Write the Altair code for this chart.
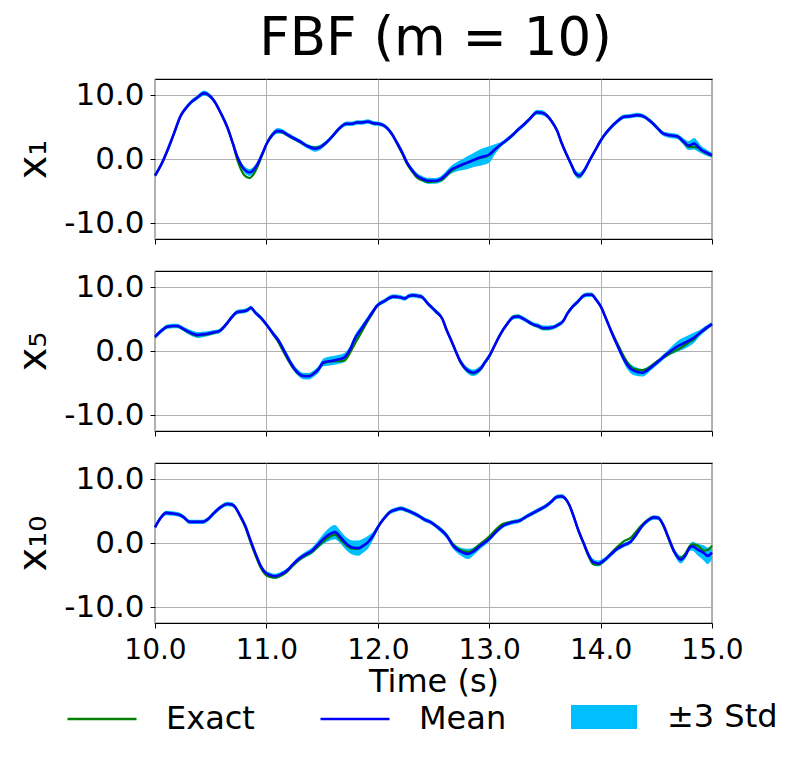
import altair as alt
import pandas as pd

FONT = "DejaVu Sans"

# ---------------- data ----------------
x_ticks = [10, 11, 12, 13, 14, 15]
y_ticks = [-10, 0, 10]
panel_names = ["x\u2081", "x\u2085", "x\u2081\u2080"]
series_names = ["Exact", "Mean"]
band_name = "\u00b13 Std"

t1 = [10.00, 10.06, 10.11, 10.17, 10.23, 10.28, 10.32, 10.38, 10.44, 10.49,
      10.53, 10.59, 10.65, 10.70, 10.74, 10.80, 10.85, 10.88, 10.92, 10.96,
      11.00, 11.05, 11.10, 11.14, 11.18, 11.24, 11.30, 11.37, 11.44, 11.49,
      11.54, 11.60, 11.65, 11.72, 11.77, 11.81, 11.86, 11.91, 11.96, 12.02,
      12.08, 12.13, 12.17, 12.22, 12.26, 12.31, 12.35, 12.40, 12.45, 12.52,
      12.57, 12.61, 12.65, 12.70, 12.74, 12.80, 12.86, 12.93, 13.00, 13.05,
      13.10, 13.16, 13.22, 13.26, 13.31, 13.36, 13.43, 13.48, 13.52, 13.56,
      13.61, 13.65, 13.70, 13.74, 13.77, 13.81, 13.85, 13.90, 13.95, 14.00,
      14.05, 14.09, 14.15, 14.21, 14.27, 14.33, 14.38, 14.44, 14.49, 14.56,
      14.62, 14.69, 14.74, 14.79, 14.84, 14.87, 14.90, 14.95, 15.00]
mean1 = [-2.6, -0.7, 1.3, 4.0, 6.75, 8.0, 8.8, 9.6, 10.3, 9.9,
         9.1, 7.2, 4.9, 2.4, 0.3, -1.6, -2.1, -1.8, -0.8, 0.7,
         2.3, 3.7, 4.4, 4.3, 3.9, 3.3, 2.75, 2.0, 1.6, 1.9,
         2.6, 3.7, 4.7, 5.5, 5.5, 5.7, 5.7, 5.85, 5.6, 5.45,
         4.9, 3.8, 2.6, 1.0, -0.5, -1.8, -2.6, -3.1, -3.4, -3.4,
         -3.1, -2.5, -1.8, -1.3, -1.0, -0.6, -0.15, 0.3, 0.7, 1.5,
         2.2, 3.0, 3.9, 4.6, 5.35, 6.2, 7.3, 7.2, 6.75, 5.9,
         4.4, 2.5, 0.5, -1.0, -2.1, -2.6, -1.9, -0.26, 1.3, 2.86,
         4.1, 4.9, 5.9, 6.6, 6.7, 6.86, 6.7, 6.0, 5.2, 4.0,
         3.7, 3.5, 2.8, 2.1, 2.4, 2.0, 1.5, 1.0, 0.6]
exact1 = [-2.6, -0.8, 1.2, 3.9, 6.7, 8.0, 8.8, 9.6, 10.3, 9.9,
          9.1, 7.2, 5.0, 2.3, -0.2, -2.5, -3.0, -2.5, -1.2, 0.5,
          2.3, 3.8, 4.3, 4.2, 3.8, 3.2, 2.7, 2.0, 1.8, 2.0,
          2.6, 3.7, 4.7, 5.5, 5.5, 5.7, 5.7, 5.85, 5.6, 5.45,
          4.9, 3.9, 2.5, 0.8, -0.7, -2.0, -2.9, -3.3, -3.6, -3.5,
          -3.3, -2.7, -2.0, -1.4, -1.1, -0.6, -0.2, 0.2, 0.6, 1.4,
          2.2, 3.0, 3.9, 4.6, 5.35, 6.2, 7.3, 7.2, 6.75, 5.9,
          4.4, 2.5, 0.5, -1.0, -2.2, -2.7, -1.9, -0.3, 1.3, 2.86,
          4.1, 4.9, 5.9, 6.6, 6.7, 6.86, 6.7, 6.0, 5.2, 4.0,
          3.7, 3.5, 2.7, 1.9, 1.9, 1.8, 1.4, 0.9, 0.5]
std3_1 = [0.35, 0.35, 0.35, 0.35, 0.35, 0.35, 0.35, 0.35, 0.4, 0.35,
          0.35, 0.35, 0.35, 0.4, 0.45, 0.5, 0.55, 0.5, 0.45, 0.4,
          0.35, 0.4, 0.45, 0.4, 0.35, 0.35, 0.35, 0.35, 0.45, 0.4,
          0.35, 0.35, 0.35, 0.35, 0.35, 0.35, 0.35, 0.35, 0.35, 0.35,
          0.35, 0.35, 0.4, 0.4, 0.4, 0.45, 0.45, 0.45, 0.45, 0.45,
          0.5, 0.55, 0.6, 0.7, 0.8, 1.0, 1.1, 1.3, 1.3, 0.8,
          0.4, 0.35, 0.35, 0.35, 0.35, 0.35, 0.4, 0.4, 0.35, 0.35,
          0.35, 0.35, 0.4, 0.45, 0.5, 0.5, 0.45, 0.35, 0.35, 0.35,
          0.35, 0.35, 0.35, 0.35, 0.35, 0.35, 0.35, 0.35, 0.35, 0.35,
          0.4, 0.4, 0.5, 0.7, 0.9, 0.8, 0.6, 0.5, 0.4]

t2 = [10.00, 10.06, 10.11, 10.16, 10.20, 10.25, 10.29, 10.34, 10.38, 10.43,
      10.47, 10.52, 10.575, 10.61, 10.65, 10.69, 10.74, 10.79, 10.83, 10.86,
      10.90, 10.95, 11.01, 11.065, 11.11, 11.155, 11.20, 11.245, 11.29, 11.33,
      11.38, 11.42, 11.47, 11.51, 11.56, 11.60, 11.65, 11.70, 11.75, 11.79,
      11.85, 11.90, 11.95, 11.99, 12.06, 12.14, 12.20, 12.24, 12.28, 12.315,
      12.36, 12.39, 12.45, 12.52, 12.58, 12.615, 12.66, 12.705, 12.74, 12.78,
      12.82, 12.855, 12.89, 12.93, 12.96, 13.00, 13.05, 13.10, 13.16, 13.22,
      13.26, 13.29, 13.34, 13.395, 13.44, 13.485, 13.53, 13.575, 13.62, 13.665,
      13.70, 13.74, 13.79, 13.845, 13.88, 13.92, 13.96, 14.00, 14.05, 14.10,
      14.15, 14.21, 14.25, 14.30, 14.375, 14.45, 14.50, 14.54, 14.585, 14.63,
      14.68, 14.72, 14.78, 14.84, 14.89, 14.94, 15.00]
mean2 = [2.2, 3.2, 3.8, 3.9, 3.9, 3.5, 3.1, 2.7, 2.5, 2.6,
         2.7, 2.9, 3.1, 3.6, 4.4, 5.3, 6.1, 6.2, 6.4, 6.75,
         6.0, 5.2, 3.9, 2.6, 1.6, 0.16, -1.3, -2.6, -3.5, -3.9,
         -3.95, -3.6, -2.8, -1.8, -1.6, -1.5, -1.3, -1.0, 0.2, 1.8,
         3.4, 4.7, 6.0, 7.0, 7.8, 8.5, 8.4, 8.2, 8.6, 8.7,
         8.6, 8.5, 7.4, 6.2, 5.0, 3.4, 1.6, -0.26, -1.6, -2.6,
         -3.2, -3.4, -3.2, -2.6, -1.8, -0.8, 0.9, 2.6, 4.2, 5.3,
         5.4, 5.2, 4.7, 4.16, 3.9, 3.6, 3.6, 3.7, 4.1, 4.7,
         5.8, 6.75, 7.6, 8.6, 8.8, 8.8, 8.0, 7.0, 5.0, 2.86,
         0.9, -1.3, -2.4, -3.1, -3.4, -2.6, -1.9, -1.3, -0.6, 0.0,
         0.6, 1.0, 1.5, 2.1, 2.8, 3.5, 4.2]
exact2 = [2.2, 3.2, 3.8, 3.9, 3.9, 3.4, 3.0, 2.6, 2.4, 2.5,
          2.6, 2.8, 3.1, 3.6, 4.4, 5.3, 6.1, 6.2, 6.4, 6.75,
          6.0, 5.2, 3.9, 2.5, 1.3, -0.2, -1.6, -2.8, -3.6, -3.9,
          -3.9, -3.5, -2.8, -1.9, -1.7, -1.6, -1.6, -1.5, -0.3, 1.0,
          2.8, 4.4, 5.8, 7.0, 7.8, 8.5, 8.4, 8.2, 8.6, 8.7,
          8.6, 8.5, 7.4, 6.2, 5.0, 3.4, 1.6, -0.3, -1.7, -2.7,
          -3.3, -3.5, -3.3, -2.7, -1.9, -0.9, 0.9, 2.6, 4.2, 5.4,
          5.5, 5.2, 4.7, 4.1, 3.8, 3.5, 3.5, 3.7, 4.1, 4.7,
          5.8, 6.75, 7.6, 8.6, 8.8, 8.8, 8.0, 7.0, 5.0, 3.0,
          1.2, -0.9, -2.0, -2.8, -3.0, -2.4, -1.7, -1.3, -0.8, -0.3,
          0.1, 0.5, 1.2, 1.9, 2.8, 3.4, 4.2]
std3_2 = [0.35, 0.35, 0.35, 0.35, 0.35, 0.35, 0.4, 0.45, 0.45, 0.45,
          0.4, 0.35, 0.35, 0.35, 0.35, 0.35, 0.35, 0.35, 0.35, 0.35,
          0.35, 0.35, 0.35, 0.4, 0.45, 0.5, 0.5, 0.5, 0.5, 0.5,
          0.5, 0.5, 0.55, 0.6, 0.7, 0.7, 0.7, 0.7, 0.6, 0.6,
          0.55, 0.5, 0.4, 0.35, 0.35, 0.35, 0.35, 0.35, 0.35, 0.35,
          0.35, 0.35, 0.35, 0.35, 0.35, 0.35, 0.4, 0.4, 0.45, 0.45,
          0.5, 0.5, 0.5, 0.45, 0.4, 0.4, 0.35, 0.35, 0.35, 0.35,
          0.35, 0.35, 0.35, 0.35, 0.4, 0.4, 0.4, 0.35, 0.35, 0.35,
          0.35, 0.35, 0.35, 0.35, 0.35, 0.35, 0.35, 0.35, 0.4, 0.45,
          0.5, 0.6, 0.7, 0.7, 0.6, 0.45, 0.4, 0.4, 0.45, 0.6,
          0.8, 0.9, 0.9, 0.8, 0.5, 0.4, 0.35]

t3 = [10.00, 10.05, 10.10, 10.16, 10.22, 10.26, 10.31, 10.36, 10.425, 10.48,
      10.53, 10.59, 10.65, 10.69, 10.72, 10.76, 10.81, 10.86, 10.915, 10.95,
      10.99, 11.03, 11.08, 11.13, 11.185, 11.24, 11.29, 11.35, 11.41, 11.46,
      11.51, 11.56, 11.615, 11.66, 11.72, 11.77, 11.825, 11.87, 11.91, 11.96,
      12.00, 12.05, 12.107, 12.16, 12.21, 12.26, 12.315, 12.37, 12.42, 12.47,
      12.52, 12.555, 12.62, 12.675, 12.74, 12.81, 12.86, 12.915, 13.00, 13.06,
      13.125, 13.20, 13.275, 13.34, 13.395, 13.46, 13.515, 13.56, 13.605, 13.65,
      13.68, 13.72, 13.755, 13.80, 13.845, 13.89, 13.935, 13.98, 14.025, 14.09,
      14.15, 14.21, 14.27, 14.32, 14.375, 14.43, 14.48, 14.52, 14.56, 14.615,
      14.66, 14.72, 14.77, 14.80, 14.825, 14.87, 14.93, 14.96, 15.00]
mean3 = [2.45, 3.9, 4.7, 4.6, 4.4, 4.0, 3.3, 3.3, 3.3, 3.8,
         4.7, 5.6, 6.1, 6.0, 5.6, 4.4, 2.7, 0.3, -2.2, -3.6,
         -4.6, -5.0, -5.2, -4.9, -4.3, -3.3, -2.5, -1.8, -1.2, -0.3,
         0.6, 1.3, 1.7, 1.0, -0.16, -0.7, -0.8, -0.4, 0.1, 1.2,
         2.45, 3.7, 4.8, 5.2, 5.4, 5.1, 4.7, 4.2, 3.65, 3.3,
         2.7, 2.2, 1.1, -0.4, -1.3, -1.7, -1.3, -0.5, 0.6, 1.7,
         2.7, 3.2, 3.5, 4.2, 4.7, 5.3, 5.85, 6.5, 7.2, 7.3,
         7.0, 5.9, 4.3, 2.0, 0.1, -1.8, -3.0, -3.2, -2.8, -1.8,
         -0.9, -0.3, 0.2, 1.3, 2.7, 3.6, 4.0, 3.9, 2.9, 0.6,
         -1.3, -2.6, -1.7, -0.7, -0.5, -1.0, -1.6, -2.0, -1.5]
exact3 = [2.45, 3.9, 4.7, 4.6, 4.4, 4.0, 3.3, 3.3, 3.3, 3.8,
          4.7, 5.6, 6.1, 6.0, 5.6, 4.3, 2.5, 0.0, -2.5, -3.9,
          -4.9, -5.3, -5.4, -5.1, -4.5, -3.5, -2.7, -2.0, -1.4, -0.6,
          0.2, 0.9, 1.3, 0.6, -0.4, -0.9, -0.9, -0.5, 0.1, 1.2,
          2.45, 3.7, 4.8, 5.2, 5.4, 5.1, 4.7, 4.2, 3.65, 3.3,
          2.7, 2.3, 1.2, -0.2, -1.1, -1.4, -1.0, -0.2, 1.0, 2.1,
          3.0, 3.3, 3.5, 4.2, 4.7, 5.3, 5.85, 6.5, 7.2, 7.3,
          7.0, 5.9, 4.3, 2.0, 0.0, -2.0, -3.3, -3.4, -2.9, -1.7,
          -0.6, 0.3, 0.8, 1.8, 2.9, 3.7, 4.1, 3.9, 2.8, 0.4,
          -1.4, -2.3, -1.4, -0.5, -0.2, -0.4, -1.2, -1.1, -0.4]
std3_3 = [0.35, 0.35, 0.35, 0.35, 0.35, 0.35, 0.35, 0.35, 0.35, 0.35,
          0.35, 0.35, 0.35, 0.35, 0.35, 0.35, 0.35, 0.35, 0.35, 0.35,
          0.35, 0.4, 0.4, 0.4, 0.35, 0.35, 0.4, 0.45, 0.5, 0.6,
          0.8, 1.0, 1.1, 1.0, 1.0, 1.1, 1.2, 1.1, 1.0, 0.6,
          0.4, 0.35, 0.35, 0.35, 0.35, 0.35, 0.35, 0.35, 0.35, 0.35,
          0.35, 0.4, 0.45, 0.5, 0.6, 0.8, 0.6, 0.5, 0.4, 0.35,
          0.35, 0.35, 0.35, 0.35, 0.35, 0.35, 0.35, 0.35, 0.35, 0.35,
          0.35, 0.35, 0.35, 0.35, 0.4, 0.45, 0.5, 0.45, 0.4, 0.4,
          0.35, 0.35, 0.35, 0.35, 0.35, 0.35, 0.35, 0.35, 0.35, 0.4,
          0.5, 0.6, 0.5, 0.5, 0.7, 0.9, 1.2, 1.3, 1.0]

# ---------------- tables ----------------
band_rows, line_rows = [], []
for name, t, m, e, s in zip(panel_names, [t1, t2, t3], [mean1, mean2, mean3],
                            [exact1, exact2, exact3], [std3_1, std3_2, std3_3]):
    for ti, mi, ei, si in zip(t, m, e, s):
        band_rows.append({"panel": name, "t": ti, "lo": mi - si, "hi": mi + si, "band": band_name})
        line_rows.append({"panel": name, "t": ti, "series": "Exact", "v": ei})
        line_rows.append({"panel": name, "t": ti, "series": "Mean", "v": mi})
band_df = pd.DataFrame(band_rows)
line_df = pd.DataFrame(line_rows)

# ---------------- chart ----------------
W, H = 557, 160
yscale = alt.Scale(domain=[-12.5, 12.5], nice=False, zero=False)
xscale = alt.Scale(domain=[10, 15], nice=False, zero=False)
cscale = alt.Scale(domain=series_names, range=["#008000", "#0000ff"])
fscale = alt.Scale(domain=[band_name], range=["#00bfff"])

line_legend = alt.Legend(
    title=None, orient="none", legendX=-89, legendY=604, direction="horizontal",
    symbolType="stroke", symbolSize=4761, symbolStrokeWidth=2.5,
    labelFontSize=32, labelFont=FONT, labelColor="black", labelOffset=28,
    columnPadding=60, symbolOffset=0, padding=0,
)
band_legend = alt.Legend(
    title=None, orient="none", legendX=416, legendY=605, direction="horizontal",
    symbolType="M-1,-0.36H1V0.36H-1Z", symbolSize=4356, symbolStrokeWidth=0,
    labelFontSize=32, labelFont=FONT, labelColor="black", labelOffset=30,
    symbolOpacity=1, padding=0,
)


def make_panel(name, bottom):
    xaxis = alt.Axis(
        values=x_ticks, format=".1f", labels=bottom, labelFlush=False,
        title="Time (s)" if bottom else None,
        labelFontSize=28, titleFontSize=32, titlePadding=2, labelPadding=8,
        tickSize=5, grid=True, domain=False,
    )
    yaxis = alt.Axis(
        values=y_ticks, title=name,
        labelExpr="replace(format(datum.value, '.1f'), '\u2212', '-')",
        labelFontSize=31, titleFontSize=40, titlePadding=10, labelPadding=6,
        tickSize=5, grid=True, domain=False,
    )
    x = alt.X("t:Q", scale=xscale, axis=xaxis)
    band = alt.Chart(band_df[band_df.panel == name]).mark_area(
        interpolate="monotone", opacity=1
    ).encode(
        x=x,
        y=alt.Y("lo:Q", scale=yscale, axis=yaxis),
        y2="hi:Q",
        fill=alt.Fill("band:N", scale=fscale, legend=band_legend),
    )
    sub = line_df[line_df.panel == name]
    exact = alt.Chart(sub[sub.series == "Exact"]).mark_line(
        interpolate="monotone", strokeWidth=2.2
    ).encode(
        x=x,
        y=alt.Y("v:Q", scale=yscale, axis=yaxis),
        color=alt.Color("series:N", scale=cscale, legend=line_legend),
    )
    mean = alt.Chart(sub[sub.series == "Mean"]).mark_line(
        interpolate="monotone", strokeWidth=2.6
    ).encode(
        x=x,
        y=alt.Y("v:Q", scale=yscale, axis=yaxis),
        color=alt.Color("series:N", scale=cscale, legend=line_legend),
    )
    return alt.layer(band, exact, mean).properties(width=W, height=H)


chart = alt.vconcat(
    make_panel(panel_names[0], False),
    make_panel(panel_names[1], False),
    make_panel(panel_names[2], True),
    spacing=24,
).properties(
    title=alt.TitleParams("FBF (m = 10)", fontSize=53, font=FONT, fontWeight="normal",
                          color="black", anchor="middle", offset=12, dx=40),
).configure(
    font=FONT,
).configure_axis(
    labelFont=FONT, titleFont=FONT, labelColor="black", titleColor="black",
    titleFontWeight="normal", tickColor="black", tickWidth=1,
    gridColor="#b0b0b0", gridWidth=1,
).configure_view(
    stroke="black", strokeWidth=1.2,
).configure_legend(
    labelFont=FONT,
)

chart.save("out.html", embed_options={"renderer": "svg", "actions": False})
